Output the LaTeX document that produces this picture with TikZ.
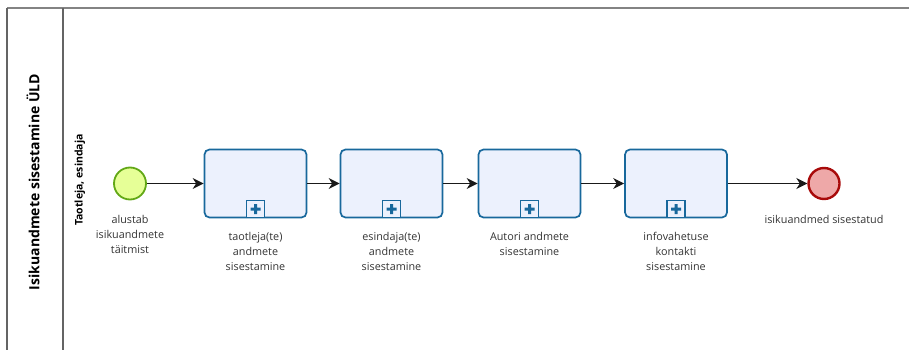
\documentclass[tikz,border=0pt]{standalone}
\usepackage{fontspec}
\setmainfont{Open Sans}
\usepackage{xcolor}
\usetikzlibrary{arrows.meta, positioning}
\definecolor{taskColor}{RGB}{24, 104, 156}
\definecolor{taskFill}{RGB}{236, 241, 253}
\definecolor{startColor}{RGB}{98, 168, 22}
\definecolor{startFill}{RGB}{230, 255, 151}
\definecolor{endColor}{RGB}{168, 10, 10}
\definecolor{endFill}{RGB}{238, 168, 168}
\definecolor{poolColor}{RGB}{100, 100, 100}

\begin{document}
\begin{tikzpicture}[x=1pt, y=-1pt,
    task/.style={rectangle, draw=taskColor, line width=1.7pt, fill=taskFill, rounded corners=5pt, minimum width=102pt, minimum height=68pt},
    marker/.style={rectangle, draw=taskColor, line width=1.5pt, fill=taskFill, minimum width=18pt, minimum height=17pt, inner sep=0pt},
    startev/.style={circle, draw=startColor, line width=1.8pt, fill=startFill, minimum size=32pt, inner sep=0pt},
    endev/.style={circle, draw=endColor, line width=2.4pt, fill=endFill, minimum size=31pt, inner sep=0pt},
    lbl/.style={align=center, anchor=north, inner sep=0pt, font=\fontsize{10.8}{15}\selectfont, text=black!80},
    flow/.style={-{Stealth[length=11pt, width=11pt, inset=3.5pt]}, line width=1.1pt, black!90}]

    \useasboundingbox (0,0) rectangle (909,350);

    % pool and lane
    \draw[poolColor!80, line width=1.2pt] (909,8) -- (7,8);
    \draw[poolColor, line width=1.2pt] (7,8) -- (7,351);
    \draw[poolColor, line width=1.2pt] (63,8) -- (63,351);
    \node (pool) [rotate=90, font=\fontsize{14}{16}\selectfont\bfseries] at (33,182) {Isikuandmete sisestamine ÜLD};
    \node (lane) [rotate=90, font=\fontsize{10.5}{12}\selectfont\bfseries] at (80,180) {Taotleja, esindaja};

    % events and tasks
    \node (start) [startev] at (130,183.5) {};
    \node (t1) [task] at (255.5,183.5) {};
    \node (t2) [task] at (391.5,183.5) {};
    \node (t3) [task] at (529.5,183.5) {};
    \node (t4) [task] at (676,183.5) {};
    \node (end) [endev] at (824,183.5) {};

    \foreach \t in {t1,t2,t3,t4}{
        \node (\t m) [marker, anchor=south] at (\t.south) {};
        \fill[taskColor] ([xshift=-5pt, yshift=-1.5pt]\t m.center) rectangle ([xshift=5pt, yshift=1.5pt]\t m.center)
                         ([xshift=-1.5pt, yshift=-5pt]\t m.center) rectangle ([xshift=1.5pt, yshift=5pt]\t m.center);
    }

    % labels
    \node (lstart) [lbl] at (130,215) {alustab\\isikuandmete\\täitmist};
    \node (lt1) [lbl] at (255.5,232) {taotleja(te)\\andmete\\sisestamine};
    \node (lt2) [lbl] at (391.5,232) {esindaja(te)\\andmete\\sisestamine};
    \node (lt3) [lbl] at (529.5,232) {Autori andmete\\sisestamine};
    \node (lt4) [lbl] at (676,232) {infovahetuse\\kontakti\\sisestamine};
    \node (lend) [lbl] at (824,215) {isikuandmed sisestatud};

    % sequence flows
    \draw[flow] (start) -- (t1);
    \draw[flow] (t1) -- (t2);
    \draw[flow] (t2) -- (t3);
    \draw[flow] (t3) -- (t4);
    \draw[flow] (t4) -- (end);

\end{tikzpicture}
\end{document}
